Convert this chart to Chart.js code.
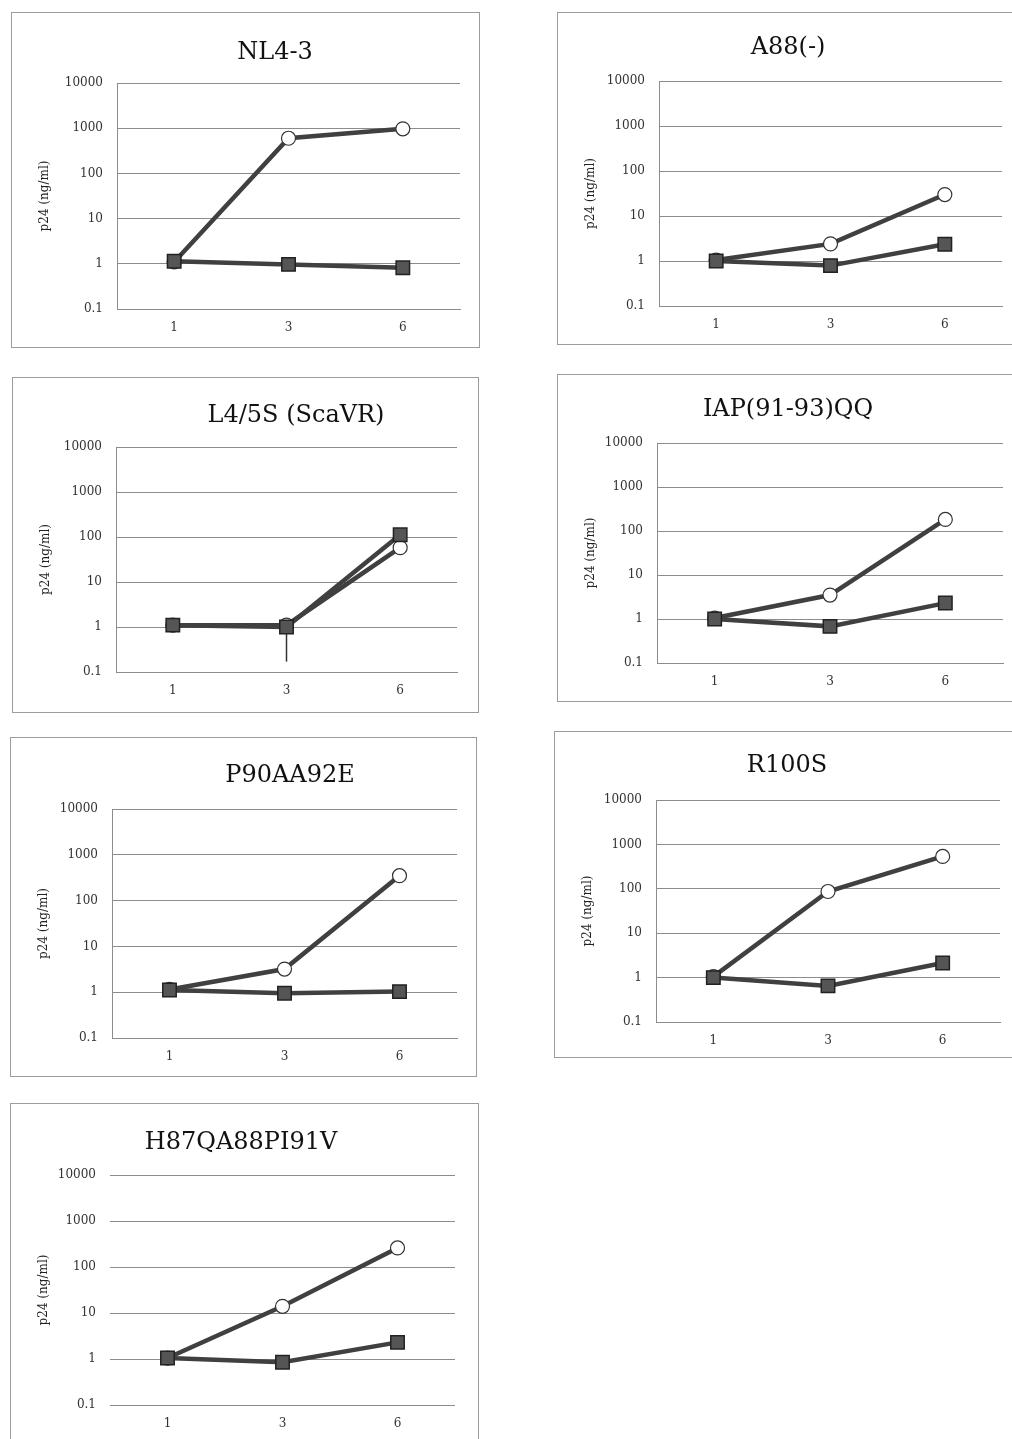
<!DOCTYPE html>
<html>
<head>
<meta charset="utf-8">
<script src="https://cdn.jsdelivr.net/npm/chart.js@4.4.1/dist/chart.umd.min.js"></script>
<style>
  body {
    margin: 0;
    width: 1012px;
    height: 1439px;
    background: #ffffff;
    overflow: hidden;
    position: relative;
    font-family: "DejaVu Serif", serif;
  }
  .panel {
    position: absolute;
    box-sizing: border-box;
    border: 1px solid #9c9c9c;
    overflow: hidden;
  }
  .panel canvas {
    position: absolute;
    left: -1px;
    top: -1px;
  }
  .title {
    position: absolute;
    transform: translate(-50%, -50%);
    font-size: 24px;
    line-height: 1;
    color: #111;
    white-space: nowrap;
  }
</style>
</head>
<body>
<script>
// days after infection
const days = ["1", "3", "6"];
const yTicks = [0.1, 1, 10, 100, 1000, 10000];

const titles = [
  "NL4-3",
  "A88(-)",
  "L4/5S (ScaVR)",
  "IAP(91-93)QQ",
  "P90AA92E",
  "R100S",
  "H87QA88PI91V"
];

// open circles / filled squares, p24 (ng/ml)
const openNL43 = [1.1, 600, 970];
const squareNL43 = [1.14, 0.97, 0.82];

const openA88 = [1.05, 2.4, 30];
const squareA88 = [1.0, 0.79, 2.35];

const openL45S = [1.1, 1.1, 58];
const squareL45S = [1.1, 1.0, 112];
const errLowL45S = [null, 0.17, null];
const errHighL45S = [null, 1.5, null];

const openIAP = [1.05, 3.5, 183];
const squareIAP = [1.0, 0.68, 2.3];

const openP90 = [1.15, 3.2, 350];
const squareP90 = [1.12, 0.95, 1.03];

const openR100S = [1.05, 87, 535];
const squareR100S = [1.0, 0.65, 2.14];

const openH87 = [1.05, 14, 260];
const squareH87 = [1.05, 0.85, 2.3];

// page layout of each panel
const panels = [
  { open: openNL43, square: squareNL43,
    box: [11, 12, 480, 348], plot: [117, 83, 460, 309], head: [275, 51] },
  { open: openA88, square: squareA88,
    box: [557, 12, 1014, 345], plot: [659, 81, 1002, 306], head: [788, 46] },
  { open: openL45S, square: squareL45S, errLow: errLowL45S, errHigh: errHighL45S,
    box: [12, 377, 479, 713], plot: [116, 447, 457, 672], head: [296, 414] },
  { open: openIAP, square: squareIAP,
    box: [557, 374, 1014, 702], plot: [657, 443, 1003, 663], head: [788, 408] },
  { open: openP90, square: squareP90,
    box: [10, 737, 477, 1077], plot: [112, 809, 457, 1038], head: [290, 774] },
  { open: openR100S, square: squareR100S,
    box: [554, 731, 1014, 1058], plot: [656, 800, 1000, 1022], head: [787, 764] },
  { open: openH87, square: squareH87, noAxis: true,
    box: [10, 1103, 479, 1445], plot: [110, 1175, 455, 1405], head: [241, 1141] }
];

Chart.defaults.font.family = "'DejaVu Serif', serif";

const errorBars = {
  id: "errorBars",
  beforeDatasetsDraw: function(chart, args, opts) {
    if (!opts.low) {
      return;
    }
    const meta = chart.getDatasetMeta(1);
    const y = chart.scales.y;
    const ctx = chart.ctx;
    ctx.save();
    ctx.strokeStyle = "#333";
    ctx.lineWidth = 1.5;
    opts.low.forEach(function(low, i) {
      if (low === null) {
        return;
      }
      const x = meta.data[i].x;
      ctx.beginPath();
      ctx.moveTo(x, y.getPixelForValue(opts.high[i]));
      ctx.lineTo(x, y.getPixelForValue(low));
      ctx.stroke();
    });
    ctx.restore();
  }
};

panels.forEach(function(p, n) {

  const bx = p.box[0], by = p.box[1], br = p.box[2], bb = p.box[3];
  const pl = p.plot[0], pt = p.plot[1], pr = p.plot[2], pb = p.plot[3];

  const div = document.createElement("div");
  div.className = "panel";
  div.style.left = bx + "px";
  div.style.top = by + "px";
  div.style.width = (br - bx) + "px";
  div.style.height = (bb - by) + "px";
  document.body.appendChild(div);

  const canvas = document.createElement("canvas");
  canvas.width = pr - bx + 1;
  canvas.height = bb - by;
  div.appendChild(canvas);

  const head = document.createElement("div");
  head.className = "title";
  head.style.left = p.head[0] + "px";
  head.style.top = p.head[1] + "px";
  head.textContent = titles[n];
  document.body.appendChild(head);

  new Chart(canvas, {

    type: "line",

    data: {
      labels: days,
      datasets: [
        {
          data: p.open,
          order: 1,
          borderColor: "#404040",
          borderWidth: 4.5,
          pointStyle: "circle",
          pointRadius: 7,
          pointBackgroundColor: "#ffffff",
          pointBorderColor: "#333333",
          pointBorderWidth: 1.2
        },
        {
          data: p.square,
          order: 0,
          borderColor: "#404040",
          borderWidth: 4.5,
          pointStyle: "rect",
          pointRadius: 9.5,
          pointBackgroundColor: "#555555",
          pointBorderColor: "#222222",
          pointBorderWidth: 1.5
        }
      ]
    },

    options: {
      responsive: false,
      animation: false,
      layout: {
        autoPadding: false,
        padding: { left: 0, top: pt - by, right: 1, bottom: 0 }
      },
      plugins: {
        legend: { display: false },
        tooltip: { enabled: false },
        errorBars: { low: p.errLow, high: p.errHigh }
      },
      scales: {
        x: {
          offset: true,
          grid: { display: false, drawTicks: false },
          border: { display: !p.noAxis, color: "#8c8c8c", width: 1 },
          ticks: {
            padding: 12,
            color: "#333",
            font: { size: 12 }
          },
          afterFit: function(scale) {
            scale.height = bb - pb;
            scale.paddingLeft = 0;
            scale.paddingRight = 0;
          }
        },
        y: {
          type: "logarithmic",
          min: 0.1,
          max: 10000,
          grid: {
            color: "#8c8c8c",
            lineWidth: 1,
            drawTicks: false
          },
          border: { display: !p.noAxis, color: "#8c8c8c", width: 1 },
          ticks: {
            padding: 14,
            color: "#333",
            font: { size: 12 },
            callback: function(value) {
              return String(value);
            }
          },
          afterBuildTicks: function(scale) {
            scale.ticks = yTicks.map(function(v) {
              return { value: v };
            });
          },
          afterFit: function(scale) {
            scale.width = pl - bx;
            scale.paddingTop = 0;
            scale.paddingBottom = 0;
          },
          title: {
            display: true,
            text: "p24 (ng/ml)",
            color: "#222",
            font: { size: 12 },
            padding: { top: 27, bottom: 0 }
          }
        }
      }
    },

    plugins: [errorBars]
  });

});
</script>
</body>
</html>
